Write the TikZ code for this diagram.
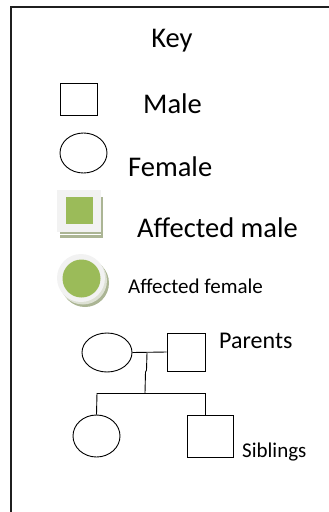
\documentclass[tikz,border=0pt]{standalone}
\usepackage{fontspec}
\setmainfont{Carlito}
\usetikzlibrary{shapes.geometric}
\begin{document}
\begin{tikzpicture}[x=1pt,y=-1pt,
  sym/.style={draw=black,line width=0.9pt},
  lbl/.style={anchor=base west,inner sep=0pt,font=\fontsize{28.5}{30}\selectfont},
  slbl/.style={anchor=base west,inner sep=0pt,font=\fontsize{21}{23}\selectfont},
  conn/.style={draw=black,line width=0.9pt}]
\definecolor{affgreen}{HTML}{9BBB59}
\definecolor{lightgr}{HTML}{F2F2F2}
\definecolor{shadowgr}{HTML}{ABB594}
\useasboundingbox (0,0) rectangle (329,512);
% frame
\draw[line width=1.6pt,color=black!88] (11,520) -- (11,7) -- (340,7);
% title
\node[anchor=base,inner sep=0pt,font=\fontsize{28.5}{30}\selectfont] (key) at (172,47) {Key};
% male
\draw[sym] (60,83) rectangle (97,115);
\node[lbl] (male) at (143,113) {Male};
% female
\draw[sym] (83.5,153) ellipse [x radius=23.5,y radius=20];
\node[lbl] (female) at (128,176) {Female};
% affected male
\fill[shadowgr] (60,197) rectangle (103,238);
\fill[white] (60,233.5) rectangle (101,234.5);
\fill[lightgr] (57,190) rectangle (101,232);
\fill[affgreen] (66,197) rectangle (93,224);
\node[lbl] (affm) at (137,237) {Affected male};
% affected female
\fill[shadowgr] (85,283) circle [radius=24];
\fill[white!60!shadowgr] (83,280.5) circle [radius=24];
\fill[lightgr] (81,278) circle [radius=24];
\fill[affgreen] (81.5,278.5) circle [radius=19];
\node[slbl] (afff) at (128,293) {Affected female};
% pedigree
\node[sym,ellipse,minimum width=50pt,minimum height=39pt,inner sep=0pt] (mother) at (107,352.5) {};
\node[sym,rectangle,minimum width=38pt,minimum height=38pt,inner sep=0pt] (father) at (186,352) {};
\node[lbl,font=\fontsize{24}{26}\selectfont] (parents) at (219,348) {Parents};
\coordinate (mar) at (147,353);
\coordinate (sib) at (145,393);
\coordinate (sl) at (97,393);
\coordinate (sr) at (205,393);
\node[sym,ellipse,minimum width=47pt,minimum height=42pt,inner sep=0pt] (daughter) at (96.5,436) {};
\node[sym,rectangle,minimum width=46pt,minimum height=42pt,inner sep=0pt] (son) at (210,436) {};
\node[slbl] (siblings) at (242,457) {Siblings};
\draw[conn] (mother.east) -- (father.west);
\draw[conn] (mar) -- (146.5,370) -- (145.5,372) -- (sib);
\draw[conn] (sl) -- (sr);
\draw[conn] (sl) -- (daughter.north);
\draw[conn] (sr) -- (son.north -| sr);
\end{tikzpicture}
\end{document}
